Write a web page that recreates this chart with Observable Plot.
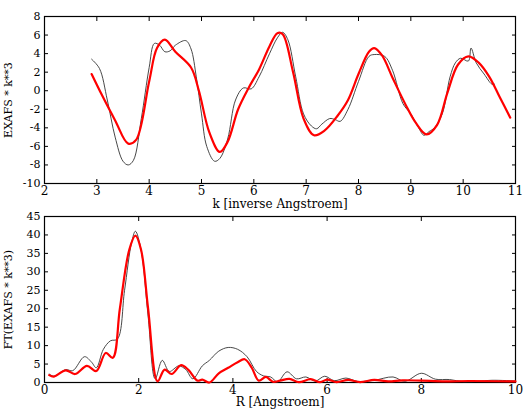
<!DOCTYPE html><html><head><meta charset="utf-8">
<script src="https://cdn.jsdelivr.net/npm/d3@7"></script>
<script src="https://cdn.jsdelivr.net/npm/@observablehq/plot@0.6"></script>
<style>body{margin:0;background:#fff}svg{display:block;overflow:visible}</style></head><body><div id="c"></div><script>
const kBlack=[[2.9,3.4],[3.05,2.4],[3.2,-1],[3.35,-5],[3.5,-7.6],[3.6,-8],[3.7,-7.5],[3.85,-3],[4.0,2.5],[4.1,5.1],[4.2,4.9],[4.3,4.2],[4.4,4.3],[4.5,4.9],[4.7,5.4],[4.8,4.5],[4.9,1.5],[5.0,-2.5],[5.1,-6],[5.25,-7.6],[5.35,-7.3],[5.5,-5.2],[5.65,-1],[5.8,0.3],[5.95,0.2],[6.1,1.5],[6.3,4],[6.45,5.7],[6.55,6.3],[6.65,5.5],[6.8,1.5],[6.95,-2.5],[7.1,-3.8],[7.2,-4.1],[7.3,-3.6],[7.45,-3],[7.55,-3.1],[7.65,-3.3],[7.8,-2],[8.0,1],[8.2,3.7],[8.3,3.9],[8.5,3.7],[8.65,2.2],[8.85,-1.4],[9.0,-2.5],[9.15,-4],[9.25,-4.8],[9.35,-4.4],[9.45,-4],[9.6,-2.5],[9.75,1.5],[9.85,3],[9.95,3.5],[10.1,3.2],[10.15,4.6],[10.25,3],[10.4,1.8],[10.55,0.7],[10.6,0.7]];
const kRed=[[2.9,1.8],[3.1,-0.5],[3.35,-3.2],[3.6,-5.7],[3.75,-5.3],[4.0,1],[4.15,4.6],[4.3,5.5],[4.5,4.2],[4.8,2.5],[4.95,0],[5.15,-4.5],[5.35,-6.6],[5.5,-5.5],[5.7,-2],[5.9,0.3],[6.1,2.3],[6.3,4.8],[6.45,6.2],[6.55,6.1],[6.75,2],[6.95,-3],[7.15,-4.8],[7.35,-4.3],[7.6,-2.7],[7.8,-1],[8.0,1.8],[8.2,4.2],[8.3,4.6],[8.45,3.8],[8.65,1.4],[8.9,-1.5],[9.1,-3.5],[9.3,-4.7],[9.5,-3.7],[9.7,-0.2],[9.9,2.8],[10.1,3.7],[10.3,3],[10.5,1.5],[10.7,-0.7],[10.9,-2.9]];
const rBlack=[[0.1,2.3],[0.2,1.7],[0.45,3.5],[0.6,3.2],[0.85,7],[1.0,5.5],[1.1,4],[1.25,9],[1.4,11.3],[1.55,11.8],[1.7,25],[1.85,38],[1.93,41],[2.05,36],[2.2,18],[2.35,1],[2.5,6],[2.65,3],[2.85,4.5],[3.0,3.5],[3.15,1],[3.35,4.5],[3.5,6],[3.7,8.5],[3.9,9.5],[4.1,9],[4.3,7],[4.5,3],[4.65,1.8],[4.8,1.5],[4.95,0.2],[5.15,2.9],[5.35,1],[5.55,1.5],[5.75,0.4],[5.95,1.7],[6.15,0.5],[6.4,1.2],[6.65,0.3],[7.0,0.6],[7.4,1.5],[7.65,0.3],[8.0,2.5],[8.3,0.9],[8.6,0.8],[8.9,0.2],[9.2,0.3],[9.5,0.6],[10,0.4]];
const rRed=[[0.1,2],[0.2,1.6],[0.45,3.3],[0.65,2.3],[0.9,4.5],[1.1,3.1],[1.3,8],[1.45,6.7],[1.6,20],[1.8,36],[1.93,39.8],[2.05,36],[2.2,20],[2.4,0.3],[2.55,3.5],[2.7,2.3],[2.9,4.7],[3.05,3.5],[3.25,0.5],[3.35,0.8],[3.5,0],[3.7,2.5],[3.9,4],[4.1,5.5],[4.25,6.3],[4.4,4],[4.55,0.5],[4.7,1.5],[4.85,0.2],[5.0,0.5],[5.2,1],[5.4,0.1],[5.65,0.9],[5.85,0.1],[6.0,0.8],[6.2,0.1],[6.45,0.7],[6.7,0.1],[7.0,0.7],[7.3,0.3],[7.6,0.6],[8.0,0.5],[8.5,0.3],[9.0,0.4],[10,0.3]];
const kTicks=d3.range(2,12,1), yTopTicks=d3.range(-10,9,2);
const rTicks=d3.range(0,11,2), yBotTicks=d3.range(0,46,5);
const fmt=d=>String(d);
function panel(h,mt,mb,xd,yd,xt,yt,xl,yl,blk,red,curve){
  const st={fontFamily:"DejaVu Serif",fontSize:"11px",color:"#000",overflow:"visible"};
  return Plot.plot({width:524,height:h,marginTop:mt,marginBottom:mb,marginLeft:44,marginRight:9,style:st,
    x:{domain:xd,ticks:xt},y:{domain:yd,ticks:yt},
    marks:[
      Plot.frame({stroke:"#000",strokeWidth:1.2}),
      Plot.axisX({ticks:xt,tickSize:-4,tickPadding:7,tickFormat:fmt,anchor:"bottom",label:xl,labelAnchor:"center",labelArrow:"none",labelOffset:mb-5,fontSize:12}),
      Plot.axisX({ticks:xt,tickSize:-4,tickFormat:()=>"",anchor:"top",label:null}),
      Plot.axisY({ticks:yt,tickSize:-4,tickPadding:8,tickFormat:fmt,anchor:"left",label:yl,labelAnchor:"center",labelArrow:"none",labelOffset:40}),
      Plot.axisY({ticks:yt,tickSize:-4,tickFormat:()=>"",anchor:"right",label:null}),
      Plot.line(blk,{x:d=>d[0],y:d=>d[1],stroke:"#333",strokeWidth:0.9,curve}),
      Plot.line(red,{x:d=>d[0],y:d=>d[1],stroke:"#f00",strokeWidth:2.2,curve})
    ]});
}
const c=document.getElementById("c");
c.append(panel(212,16,29,[2,11],[-10,8],kTicks,yTopTicks,"k [inverse Angstroem]","EXAFS * k**3",kBlack,kRed,"catmull-rom"));
c.append(panel(198,4,28,[0,10],[0,45],rTicks,yBotTicks,"R [Angstroem]","FT(EXAFS * k**3)",rBlack,rRed,"catmull-rom"));
</script></body></html>
